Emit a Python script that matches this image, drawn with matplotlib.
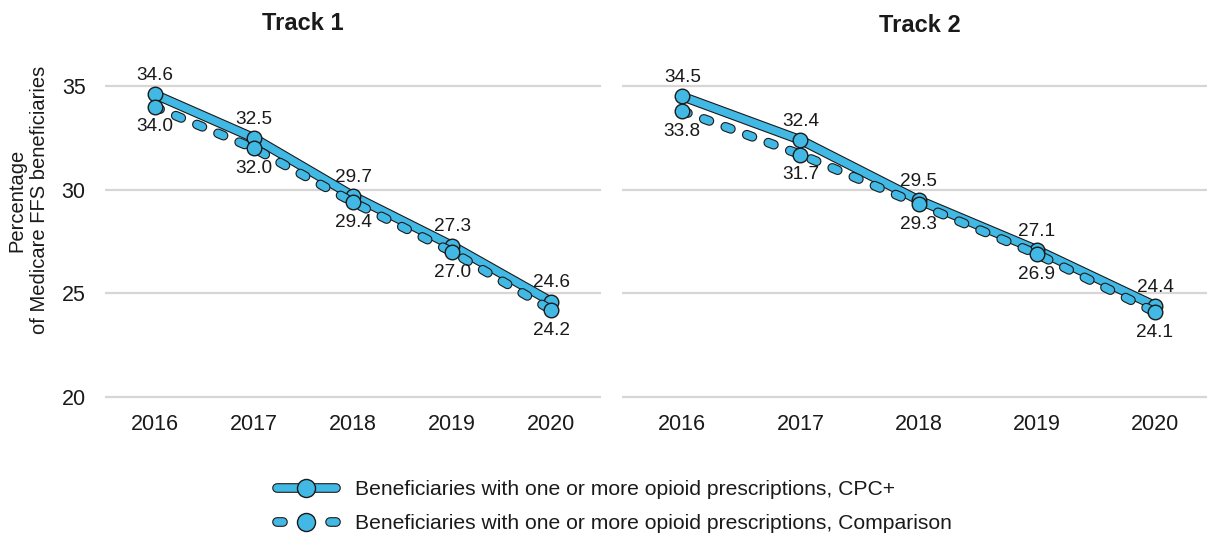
import matplotlib
matplotlib.use("Agg")
import matplotlib.pyplot as plt
from matplotlib.lines import Line2D
from matplotlib.legend_handler import HandlerTuple

plt.rcParams['font.family'] = ['Liberation Sans', 'DejaVu Sans']
plt.rcParams['lines.scale_dashes'] = False
plt.rcParams['text.color'] = '#1a1a1a'

years = [2016, 2017, 2018, 2019, 2020]
track1_cpc = [34.6, 32.5, 29.7, 27.3, 24.6]
track1_comp = [34.0, 32.0, 29.4, 27.0, 24.2]
track2_cpc = [34.5, 32.4, 29.5, 27.1, 24.4]
track2_comp = [33.8, 31.7, 29.3, 26.9, 24.1]
yticks = [20, 25, 30, 35]
titles = ["Track 1", "Track 2"]
series_names = ["Beneficiaries with one or more opioid prescriptions, CPC+",
                "Beneficiaries with one or more opioid prescriptions, Comparison"]

BLUE = '#42b8e4'
DARK = '#1a1a1a'
GRID = '#d6d6d6'
DASH = (0, (4.3, 12.2))
LW_OUT, LW_IN = 7.0, 5.4

W, H = 1207, 537
fig = plt.figure(figsize=(W / 100, H / 100), dpi=100)


def px_axes(x0, x1, y_top, y_bot):
    return fig.add_axes([x0 / W, 1 - y_bot / H, (x1 - x0) / W, (y_bot - y_top) / H])


def cased(ax, x, y, ls, z):
    # dark casing underneath, blue core on top, then the point markers
    ax.plot(x, y, color=DARK, lw=LW_OUT, ls=ls, solid_capstyle='round',
            dash_capstyle='round', zorder=z)
    ax.plot(x, y, color=BLUE, lw=LW_IN, ls=ls, solid_capstyle='round',
            dash_capstyle='round', zorder=z + 0.1)
    ax.plot(x, y, ls='none', marker='o', ms=10.5, mfc=BLUE, mec=DARK, mew=1.0,
            zorder=z + 0.2)


ax1 = px_axes(105, 601, 55, 407.4)
ax2 = px_axes(622, 1207, 55, 407.4)

panels = [(ax1, track1_cpc, track1_comp, (2015.5, 2020.5)),
          (ax2, track2_cpc, track2_comp, (2015.49, 2020.44))]

for ax, cpc, comp, xl in panels:
    ax.set_xlim(*xl)
    ax.set_ylim(19.5, 36.5)
    ax.set_yticks(yticks)
    ax.set_xticks(years)
    ax.grid(axis='y', color=GRID, lw=1.6)
    ax.set_axisbelow(True)
    for s in ax.spines.values():
        s.set_visible(False)
    ax.tick_params(length=0, labelsize=15.5, colors=DARK)
    ax.tick_params(axis='x', pad=5)
    ax.tick_params(axis='y', pad=14)

    cased(ax, years, cpc, '-', 3)
    cased(ax, years, comp, DASH, 4)

    for x, v in zip(years, cpc):
        ax.annotate(f"{v:.1f}", (x, v), xytext=(0, 13.5), textcoords='offset points',
                    ha='center', va='center', fontsize=13.7, zorder=6)
    for x, v in zip(years, comp):
        ax.annotate(f"{v:.1f}", (x, v), xytext=(0, -14.5), textcoords='offset points',
                    ha='center', va='center', fontsize=13.7, zorder=6)

ax2.tick_params(axis='y', labelleft=False)

fig.text(303 / W, 1 - 23 / H, titles[0], ha='center', va='center',
         fontsize=17, fontweight='bold')
fig.text(920 / W, 1 - 26 / H, titles[1], ha='center', va='center',
         fontsize=17, fontweight='bold')

fig.text(28 / W, 1 - 200 / H, "Percentage\nof Medicare FFS beneficiaries",
         rotation=90, ha='center', va='center', fontsize=14.5,
         multialignment='center', linespacing=1.25)


def legend_handle(ls):
    outer = Line2D([], [], color=DARK, lw=LW_OUT, ls=ls, solid_capstyle='round',
                   dash_capstyle='round')
    inner = Line2D([], [], color=BLUE, lw=LW_IN, ls=ls, solid_capstyle='round',
                   dash_capstyle='round')
    mark = Line2D([], [], ls='none', marker='o', ms=13, mfc=BLUE, mec=DARK, mew=1.0)
    return (outer, inner, mark)


LEG_FS = 15.2
fig.legend([legend_handle('-'), legend_handle((0, (4.3, 33.9)))], series_names,
           handler_map={tuple: HandlerTuple(ndivide=1, pad=0)},
           loc='upper left', bbox_to_anchor=(257.5 / W, 1 - 461 / H),
           frameon=False, fontsize=LEG_FS, handlelength=2.8, handletextpad=0.92,
           labelspacing=0.72, numpoints=1)

fig.savefig("out.png", dpi=100, facecolor='white')
